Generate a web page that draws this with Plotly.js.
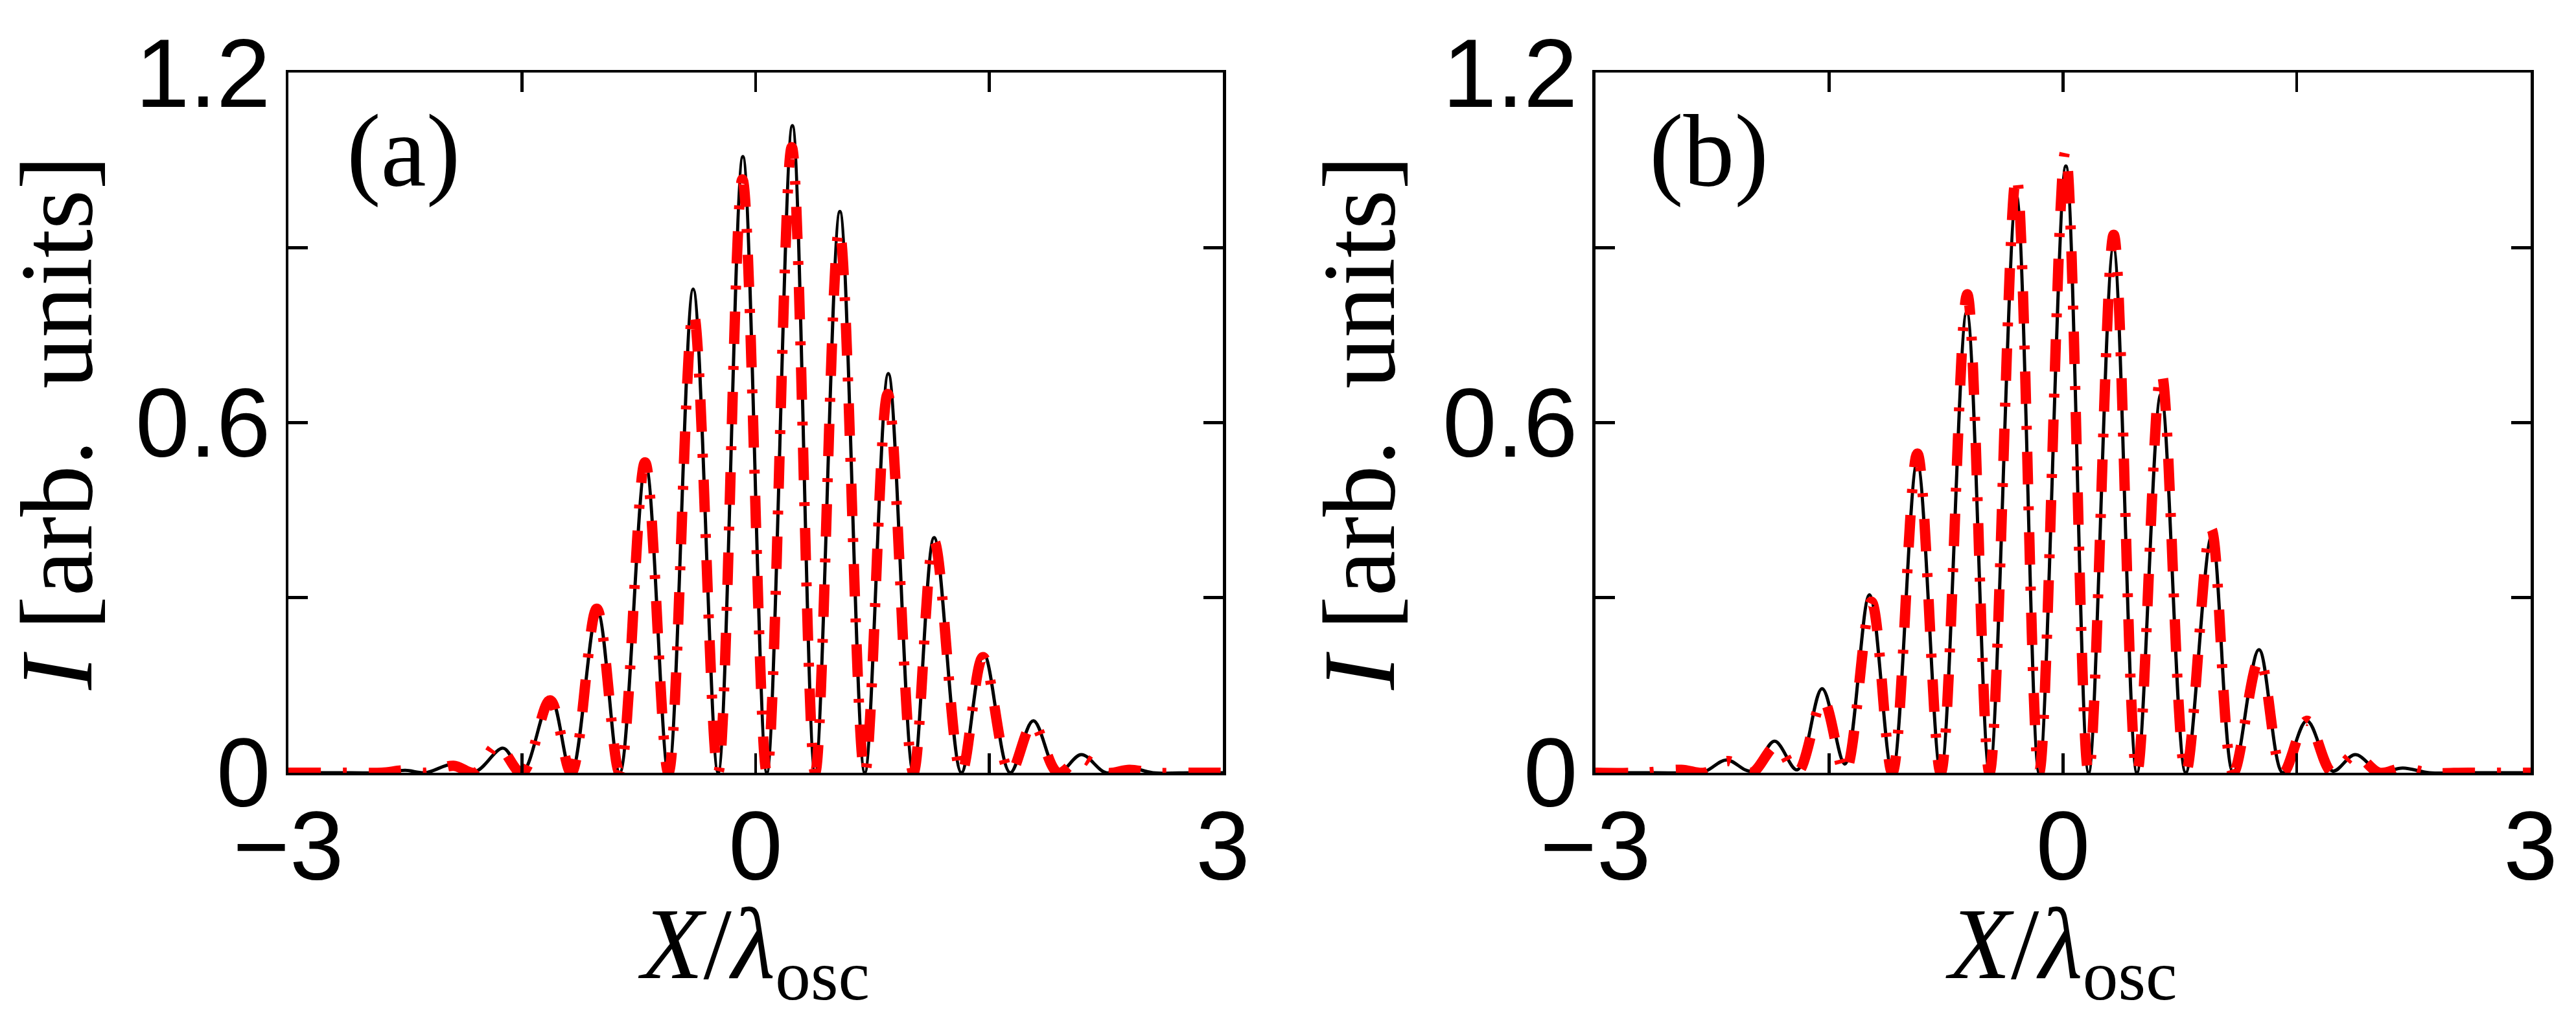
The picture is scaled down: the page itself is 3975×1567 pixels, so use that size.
<!DOCTYPE html>
<html>
<head>
<meta charset="utf-8">
<script src="https://cdn.plot.ly/plotly-3.0.1.min.js"></script>
<style>html,body{margin:0;padding:0;background:#fff;}#chart{width:3975px;height:1567px;}</style>
</head>
<body>
<div id="chart"></div>
<script>
// ---- Panel (a) ----
const xA_black = [-3.0, -2.6, -2.4, -2.25, -2.12, -1.94, -1.80, -1.62, -1.50, -1.316, -1.184, -1.016, -0.873, -0.706, -0.560, -0.401, -0.241, -0.082, 0.072, 0.236, 0.382, 0.541, 0.701, 0.852, 1.013, 1.146, 1.321, 1.465, 1.634, 1.783, 1.942, 2.091, 2.25, 2.393, 2.55, 2.8, 3.0];
const yA_black = [0.0, 0.0, 0.0, 0.004, 0.0, 0.015, 0.002, 0.042, 0.0, 0.128, 0.0, 0.277, 0.0, 0.528, 0.0, 0.829, 0.0, 1.056, 0.0, 1.109, 0.0, 0.962, 0.0, 0.684, 0.0, 0.403, 0.0, 0.203, 0.0, 0.089, 0.0, 0.031, 0.0, 0.009, 0.0, 0.0, 0.0];
const xA_red = [-3.0, -2.6, -2.4, -2.25, -2.12, -1.94, -1.80, -1.66, -1.50, -1.32, -1.184, -1.02, -0.873, -0.71, -0.560, -0.40, -0.241, -0.085, 0.072, 0.232, 0.382, 0.537, 0.701, 0.848, 1.013, 1.146, 1.321, 1.46, 1.634, 1.78, 1.942, 2.09, 2.25, 2.40, 2.55, 2.8, 3.0];
const yA_red = [0.0, 0.0, 0.0, 0.004, 0.0, 0.012, 0.0, 0.047, 0.0, 0.124, 0.0, 0.281, 0.0, 0.532, 0.0, 0.790, 0.0, 1.017, 0.0, 1.072, 0.0, 0.931, 0.0, 0.649, 0.0, 0.397, 0.0, 0.198, 0.0, 0.084, 0.0, 0.025, 0.0, 0.005, 0.0, 0.0, 0.0];

// ---- Panel (b) ----
const xB_black = [-3.0, -2.7, -2.45, -2.30, -2.16, -2.00, -1.851, -1.706, -1.546, -1.400, -1.242, -1.096, -0.936, -0.785, -0.618, -0.472, -0.300, -0.154, 0.018, 0.164, 0.323, 0.474, 0.628, 0.787, 0.954, 1.092, 1.257, 1.410, 1.564, 1.729, 1.874, 2.03, 2.18, 2.35, 2.6, 3.0];
const yB_black = [0.0, 0.0, 0.0, 0.002, 0.022, 0.003, 0.054, 0.005, 0.144, 0.015, 0.305, 0.0, 0.532, 0.0, 0.790, 0.0, 0.990, 0.0, 1.040, 0.0, 0.900, 0.0, 0.649, 0.0, 0.406, 0.0, 0.211, 0.0, 0.089, 0.003, 0.031, 0.002, 0.008, 0.0, 0.0, 0.0];
const xB_red = [-3.0, -2.7, -2.45, -2.30, -2.15, -2.00, -1.84, -1.706, -1.54, -1.400, -1.23, -1.096, -0.935, -0.785, -0.615, -0.472, -0.300, -0.154, 0.015, 0.164, 0.325, 0.474, 0.630, 0.787, 0.950, 1.092, 1.260, 1.410, 1.565, 1.729, 1.870, 2.03, 2.18, 2.35, 2.6, 3.0];
const yB_red = [0.0, 0.0, 0.005, 0.0, 0.020, 0.0, 0.046, 0.0, 0.124, 0.0, 0.293, 0.0, 0.547, 0.0, 0.820, 0.0, 1.023, 0.0, 1.065, 0.0, 0.922, 0.0, 0.686, 0.0, 0.418, 0.0, 0.195, 0.0, 0.089, 0.0, 0.031, 0.0, 0.008, 0.0, 0.0, 0.0];

// ---- Axis ticks / labels ----
const xTickVals = [-3, -1.5, 0, 1.5, 3];
const xTickText = ['\u22123', '', '0', '', '3'];
const yTickVals = [0, 0.3, 0.6, 0.9, 1.2];
const yTickText = ['0', '', '0.6', '', '1.2'];
const panelLabels = ['(a)', '(b)'];
const xTitle = '<i>X</i>/<i>\u03bb</i><sub>osc</sub>';
const yTitle = '<i>I</i> [arb.&nbsp;&nbsp;units]';

const blackLine = {color: '#000000', width: 5, shape: 'spline', smoothing: 1};
const redLine = {color: '#ff0000', width: 16, dash: '50px,34px,6px,34px', shape: 'spline', smoothing: 1};

const traces = [
  {x: xA_black, y: yA_black, xaxis: 'x', yaxis: 'y', mode: 'lines', line: blackLine, showlegend: false},
  {x: xA_red, y: yA_red, xaxis: 'x', yaxis: 'y', mode: 'lines', line: redLine, showlegend: false},
  {x: xB_black, y: yB_black, xaxis: 'x2', yaxis: 'y2', mode: 'lines', line: blackLine, showlegend: false},
  {x: xB_red, y: yB_red, xaxis: 'x2', yaxis: 'y2', mode: 'lines', line: redLine, showlegend: false}
];

const tickFont = {family: 'Liberation Sans, Arial, sans-serif', size: 150, color: '#000'};
const xTitleFont = {family: 'Liberation Serif, Times New Roman, serif', size: 156, color: '#000'};
const yTitleFont = {family: 'Liberation Serif, Times New Roman, serif', size: 158, color: '#000'};
const labelFont = {family: 'Liberation Serif, Times New Roman, serif', size: 158, color: '#000'};

function xAxis(domain, anchor) {
  return {
    domain: domain, anchor: anchor, range: [-3, 3], fixedrange: true,
    tickmode: 'array', tickvals: xTickVals, ticktext: xTickText,
    ticks: 'inside', ticklen: 30, tickwidth: 4.5, tickcolor: '#000',
    showline: true, linewidth: 4.5, linecolor: '#000', mirror: 'ticks',
    showgrid: false, zeroline: false, tickfont: tickFont, ticklabelstandoff: -19,
    title: {text: xTitle, font: xTitleFont, standoff: 11}
  };
}
function yAxis(domain, anchor) {
  return {
    domain: domain, anchor: anchor, range: [0, 1.2], fixedrange: true,
    tickmode: 'array', tickvals: yTickVals, ticktext: yTickText,
    ticks: 'inside', ticklen: 30, tickwidth: 4.5, tickcolor: '#000',
    showline: true, linewidth: 4.5, linecolor: '#000', mirror: 'ticks',
    showgrid: false, zeroline: false, tickfont: tickFont, ticklabelstandoff: -7,
    title: {text: yTitle, font: yTitleFont, standoff: 22}
  };
}

const yDom = [0.2387, 0.9285];
const layout = {
  width: 3975, height: 1567,
  margin: {l: 0, r: 0, t: 0, b: 0, pad: 0},
  paper_bgcolor: '#ffffff', plot_bgcolor: '#ffffff',
  showlegend: false,
  xaxis: xAxis([0.11195, 0.47472], 'y'),
  yaxis: yAxis(yDom, 'x'),
  xaxis2: xAxis([0.61937, 0.98239], 'y2'),
  yaxis2: yAxis(yDom, 'x2'),
  annotations: [
    {text: panelLabels[0], xref: 'x domain', yref: 'y domain', x: 0.123, y: 0.889, xanchor: 'center', yanchor: 'middle', showarrow: false, font: labelFont},
    {text: panelLabels[1], xref: 'x2 domain', yref: 'y2 domain', x: 0.121, y: 0.889, xanchor: 'center', yanchor: 'middle', showarrow: false, font: labelFont}
  ]
};

Plotly.newPlot('chart', traces, layout, {staticPlot: true, displayModeBar: false});
</script>
</body>
</html>
